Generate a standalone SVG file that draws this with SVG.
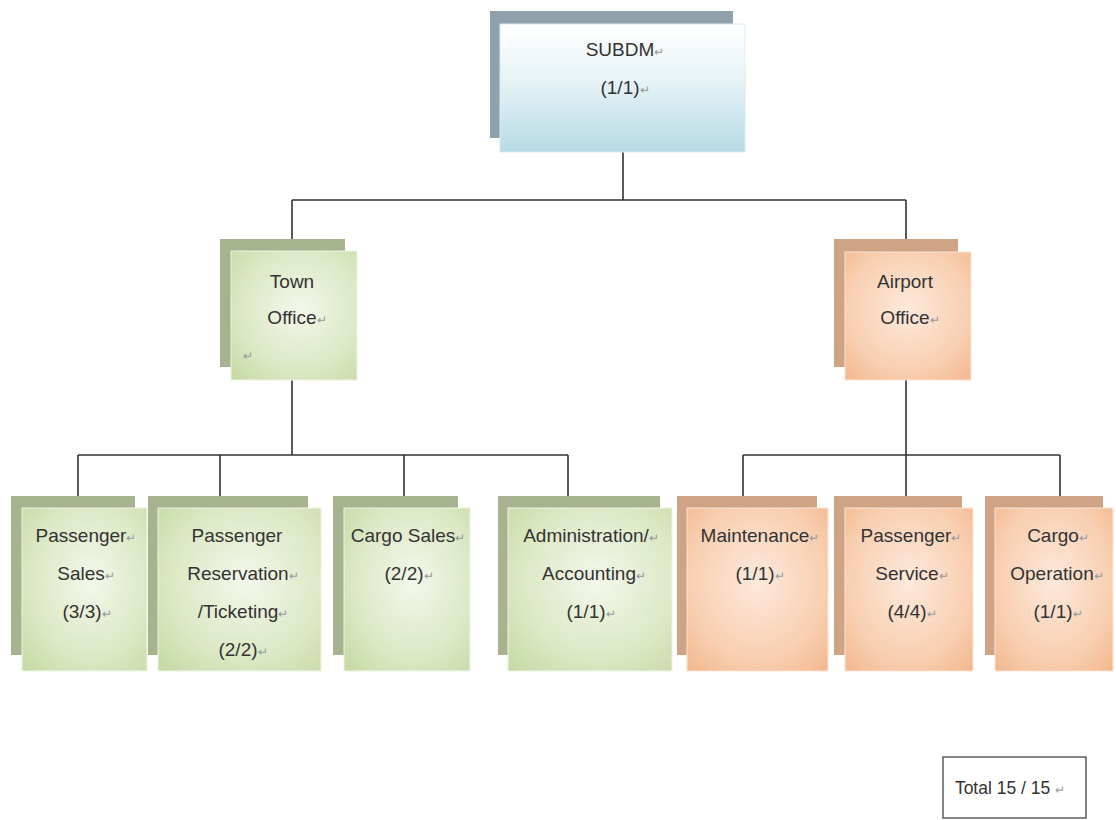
<svg xmlns="http://www.w3.org/2000/svg" width="1116" height="820" viewBox="0 0 1116 820">
<defs>
<linearGradient id="gBlue" x1="0" y1="0" x2="0" y2="1">
<stop offset="0" stop-color="#ffffff"/><stop offset="0.45" stop-color="#e6f3f6"/><stop offset="1" stop-color="#b7dbe5"/>
</linearGradient>
<radialGradient id="gGreen" cx="0.55" cy="0.45" r="0.8">
<stop offset="0" stop-color="#f3f7ea"/><stop offset="0.6" stop-color="#dbe8c4"/><stop offset="1" stop-color="#c2d79e"/>
</radialGradient>
<radialGradient id="gOrange" cx="0.5" cy="0.45" r="0.8">
<stop offset="0" stop-color="#fde9dc"/><stop offset="0.6" stop-color="#f8cfb1"/><stop offset="1" stop-color="#f2b184"/>
</radialGradient>
<style>
.bb{fill:#8fa2ab}
.bg{fill:#a7b28f}
.bo{fill:#cfa485}
.fb{fill:url(#gBlue);stroke:#d8ecf1;stroke-width:1}
.fg{fill:url(#gGreen);stroke:#eef4e4;stroke-width:1}
.fo{fill:url(#gOrange);stroke:#fbe4d4;stroke-width:1}
text{font-family:"Liberation Sans",Arial,sans-serif;font-size:19px;fill:#333333;text-anchor:middle}
.r{font-size:12px;fill:#999999}
.c{fill:none;stroke:#333;stroke-width:1.6}
</style>
</defs>
<rect width="1116" height="820" fill="#ffffff"/>
<g id="connectors">
<path class="c" d="M623 152V200M292 200H906M292 200V251M906 200V252"/>
<path class="c" d="M292 380V455M78 455H568M78 455V508M220 455V508M404 455V508M568 455V508"/>
<path class="c" d="M906 380V455M743 455H1060M743 455V508M906 455V508M1060 455V508"/>
</g>
<g id="subdm">
<rect class="bb" x="490" y="11" width="243" height="127"/>
<rect class="fb" x="500" y="24" width="245" height="128"/>
<text x="625" y="56">SUBDM<tspan class="r">↵</tspan></text>
<text x="625" y="94">(1/1)<tspan class="r">↵</tspan></text>
</g>
<g id="town-office">
<rect class="bg" x="220" y="239" width="125" height="128"/>
<rect class="fg" x="231" y="251" width="126" height="129"/>
<text x="292" y="288">Town</text>
<text x="297" y="324">Office<tspan class="r">↵</tspan></text>
<text class="r" x="248" y="360">↵</text>
</g>
<g id="airport-office">
<rect class="bo" x="834" y="239" width="124" height="128"/>
<rect class="fo" x="845" y="252" width="126" height="128"/>
<text x="905" y="288">Airport</text>
<text x="910" y="324">Office<tspan class="r">↵</tspan></text>
</g>
<g id="passenger-sales">
<rect class="bg" x="11" y="496" width="124" height="159"/>
<rect class="fg" x="22" y="508" width="125" height="163"/>
<text x="86" y="542">Passenger<tspan class="r">↵</tspan></text>
<text x="86" y="580">Sales<tspan class="r">↵</tspan></text>
<text x="87" y="618">(3/3)<tspan class="r">↵</tspan></text>
</g>
<g id="passenger-reservation">
<rect class="bg" x="148" y="496" width="160" height="159"/>
<rect class="fg" x="158" y="508" width="163" height="163"/>
<text x="237" y="542">Passenger</text>
<text x="243" y="580">Reservation<tspan class="r">↵</tspan></text>
<text x="243" y="618">/Ticketing<tspan class="r">↵</tspan></text>
<text x="243" y="656">(2/2)<tspan class="r">↵</tspan></text>
</g>
<g id="cargo-sales">
<rect class="bg" x="333" y="496" width="125" height="159"/>
<rect class="fg" x="344" y="508" width="126" height="163"/>
<text x="408" y="542">Cargo Sales<tspan class="r">↵</tspan></text>
<text x="409" y="580">(2/2)<tspan class="r">↵</tspan></text>
</g>
<g id="administration">
<rect class="bg" x="498" y="496" width="162" height="159"/>
<rect class="fg" x="508" y="508" width="164" height="163"/>
<text x="591" y="542">Administration/<tspan class="r">↵</tspan></text>
<text x="594" y="580">Accounting<tspan class="r">↵</tspan></text>
<text x="591" y="618">(1/1)<tspan class="r">↵</tspan></text>
</g>
<g id="maintenance">
<rect class="bo" x="677" y="496" width="140" height="159"/>
<rect class="fo" x="687" y="508" width="141" height="163"/>
<text x="760" y="542">Maintenance<tspan class="r">↵</tspan></text>
<text x="760" y="580">(1/1)<tspan class="r">↵</tspan></text>
</g>
<g id="passenger-service">
<rect class="bo" x="834" y="496" width="128" height="159"/>
<rect class="fo" x="845" y="508" width="128" height="163"/>
<text x="911" y="542">Passenger<tspan class="r">↵</tspan></text>
<text x="912" y="580">Service<tspan class="r">↵</tspan></text>
<text x="912" y="618">(4/4)<tspan class="r">↵</tspan></text>
</g>
<g id="cargo-operation">
<rect class="bo" x="985" y="496" width="118" height="159"/>
<rect class="fo" x="995" y="508" width="118" height="163"/>
<text x="1058" y="542">Cargo<tspan class="r">↵</tspan></text>
<text x="1057" y="580">Operation<tspan class="r">↵</tspan></text>
<text x="1058" y="618">(1/1)<tspan class="r">↵</tspan></text>
</g>
<g id="total">
<rect x="943" y="757" width="143" height="61" fill="#ffffff" stroke="#444" stroke-width="1.3"/>
<text x="1010" y="794" style="font-size:17.5px">Total 15 / 15 <tspan class="r">↵</tspan></text>
</g>
</svg>
